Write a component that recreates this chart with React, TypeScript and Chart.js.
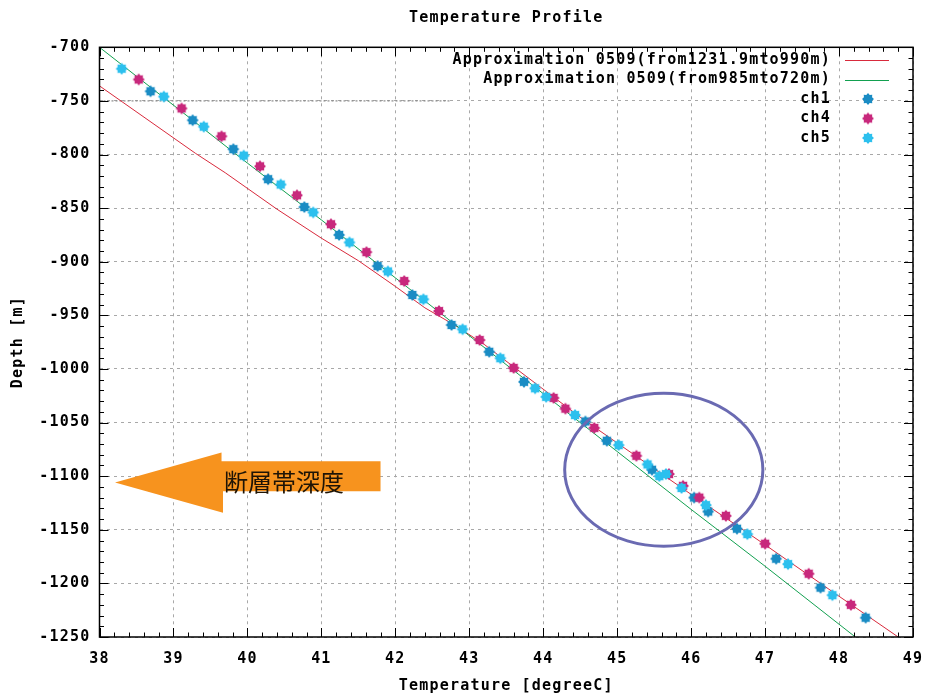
import React, { useEffect, useRef } from 'react';
import { Chart, registerables } from 'chart.js';

Chart.register(...registerables);

// ---------- text ----------
const TITLE = 'Temperature Profile';
const X_TITLE = 'Temperature [degreeC]';
const Y_TITLE = 'Depth [m]';
const RED_LABEL = 'Approximation 0509(from1231.9mto990m)';
const GREEN_LABEL = 'Approximation 0509(from985mto720m)';
const FAULT_LABEL = '断層帯深度';

// ---------- ticks ----------
const X_TICKS = [38, 39, 40, 41, 42, 43, 44, 45, 46, 47, 48, 49];
const Y_TICKS = [-700, -750, -800, -850, -900, -950, -1000, -1050, -1100, -1150, -1200, -1250];

// ---------- approximation lines ----------
const redTemp = [38.0, 39.3, 39.7, 40.4, 41.0, 41.5, 42.0, 42.4, 42.8, 43.2, 43.6, 44.5, 45.0, 46.0, 47.0, 48.0, 48.8];
const redDepth = [-736, -799, -817, -851, -878, -899, -923, -943, -959, -977, -998, -1045, -1069, -1117, -1164, -1212, -1250];

const greenTemp = [38.0, 39.0, 40.0, 41.0, 42.0, 43.0, 44.0, 45.0, 46.0, 47.0, 48.22];
const greenDepth = [-700, -754, -808, -861, -915, -969, -1023, -1077, -1131, -1184, -1250];

// dotted guide at -750
const guideTemp = [38.0, 42.75];
const guideDepth = [-750, -750];

// ---------- measured channels ----------
const ch1Temp = [38.69, 39.26, 39.81, 40.28, 40.77, 41.24, 41.76, 42.23, 42.76, 43.27, 43.74, 44.57, 44.86, 45.47, 46.04, 46.23, 46.62, 47.15, 47.75, 48.36];
const ch1Depth = [-741, -768, -795, -823, -849, -875, -904, -931, -959, -984, -1012, -1049, -1067, -1094, -1120, -1133, -1149, -1177, -1204, -1232];

const ch4Temp = [38.53, 39.11, 39.65, 40.17, 40.67, 41.13, 41.61, 42.12, 42.59, 43.14, 43.60, 44.14, 44.30, 44.69, 45.26, 45.70, 45.89, 46.11, 46.47, 47.00, 47.59, 48.16];
const ch4Depth = [-730, -757, -783, -811, -838, -865, -891, -918, -946, -973, -999, -1027, -1037, -1055, -1081, -1098, -1109, -1120, -1137, -1163, -1191, -1220];

const ch5Temp = [38.30, 38.87, 39.41, 39.95, 40.45, 40.89, 41.38, 41.90, 42.38, 42.91, 43.42, 43.89, 44.04, 44.43, 45.02, 45.41, 45.57, 45.66, 45.87, 46.20, 46.76, 47.31, 47.91];
const ch5Depth = [-720, -746, -774, -801, -828, -854, -882, -909, -935, -963, -990, -1018, -1026, -1043, -1071, -1089, -1100, -1098, -1111, -1127, -1154, -1182, -1211];

// ---------- styles ----------
const FONT = 'DejaVu Sans Mono';
const FONT_SIZE = 15;
const SPACING = '1.2px';
const RED = '#d82a3c';
const GREEN = '#12a050';
const CH1 = '#1a8cc4';
const CH4 = '#c8287c';
const CH5 = '#2cc0ee';
const GRID = '#a8a8a8';
const ELLIPSE_COLOR = '#6a6ab2';
const ARROW_COLOR = '#f7931e';

const pts = (xs: number[], ys: number[]) => xs.map((x, i) => ({ x, y: ys[i] }));

function makeMarker(color: string): HTMLCanvasElement {
  const c = document.createElement('canvas');
  const s = 14;
  c.width = s;
  c.height = s;
  const g = c.getContext('2d')!;
  g.fillStyle = color;
  g.beginPath();
  for (let i = 0; i < 16; i++) {
    const r = i % 2 === 0 ? 6 : 4.4;
    const a = (i * Math.PI) / 8;
    g.lineTo(s / 2 + r * Math.cos(a), s / 2 + r * Math.sin(a));
  }
  g.closePath();
  g.fill();
  return c;
}

export default function App() {
  const ref = useRef<HTMLCanvasElement>(null);

  useEffect(() => {
    const canvas = ref.current!;
    const markers: Record<string, HTMLCanvasElement> = {
      ch1: makeMarker(CH1),
      ch4: makeMarker(CH4),
      ch5: makeMarker(CH5),
    };

    const spacingPlugin = {
      id: 'spacing',
      beforeDraw(chart: any) {
        chart.ctx.letterSpacing = SPACING;
      },
    };

    const decorPlugin = {
      id: 'decor',
      afterDatasetsDraw(chart: any) {
        const { ctx, scales } = chart;
        const xs = scales.x;
        const ys = scales.y;
        const X = (v: number) => xs.getPixelForValue(v);
        const Y = (v: number) => ys.getPixelForValue(v);
        ctx.save();
        // ellipse
        const cx = X(45.63);
        const cy = Y(-1094);
        const rx = X(45.63 + 1.34) - cx;
        const ry = Y(-1094 - 71.4) - cy;
        ctx.strokeStyle = ELLIPSE_COLOR;
        ctx.lineWidth = 3;
        ctx.beginPath();
        ctx.ellipse(cx, cy, rx, ry, 0, 0, Math.PI * 2);
        ctx.stroke();
        // arrow
        ctx.fillStyle = ARROW_COLOR;
        ctx.beginPath();
        ctx.moveTo(X(38.21), Y(-1106));
        ctx.lineTo(X(39.65), Y(-1078));
        ctx.lineTo(X(39.65), Y(-1086));
        ctx.lineTo(X(41.8), Y(-1086));
        ctx.lineTo(X(41.8), Y(-1114));
        ctx.lineTo(X(39.67), Y(-1114));
        ctx.lineTo(X(39.67), Y(-1134));
        ctx.closePath();
        ctx.fill();
        ctx.letterSpacing = '0px';
        ctx.fillStyle = '#1e1406';
        ctx.font = '24px "Noto Sans CJK JP"';
        ctx.textAlign = 'left';
        ctx.textBaseline = 'middle';
        ctx.fillText(FAULT_LABEL, X(39.67) + 1, Y(-1105));
        ctx.restore();
      },
      afterDraw(chart: any) {
        const { ctx, chartArea: a, scales } = chart;
        const xs = scales.x;
        const ys = scales.y;
        ctx.save();
        ctx.strokeStyle = '#000';
        ctx.lineWidth = 1;
        // minor & major ticks
        ctx.beginPath();
        for (let i = 0; i < X_TICKS.length; i++) {
          const px = Math.round(xs.getPixelForValue(X_TICKS[i])) + 0.5;
          ctx.moveTo(px, a.bottom);
          ctx.lineTo(px, a.bottom - 9);
          ctx.moveTo(px, a.top);
          ctx.lineTo(px, a.top + 9);
          if (i < X_TICKS.length - 1) {
            for (let k = 1; k < 5; k++) {
              const m = Math.round(xs.getPixelForValue(X_TICKS[i] + k * 0.2)) + 0.5;
              ctx.moveTo(m, a.bottom);
              ctx.lineTo(m, a.bottom - 4.5);
              ctx.moveTo(m, a.top);
              ctx.lineTo(m, a.top + 4.5);
            }
          }
        }
        for (let i = 0; i < Y_TICKS.length; i++) {
          const py = Math.round(ys.getPixelForValue(Y_TICKS[i])) + 0.5;
          ctx.moveTo(a.left, py);
          ctx.lineTo(a.left + 9, py);
          ctx.moveTo(a.right, py);
          ctx.lineTo(a.right - 9, py);
          if (i < Y_TICKS.length - 1) {
            for (let k = 1; k < 5; k++) {
              const m = Math.round(ys.getPixelForValue(Y_TICKS[i] - k * 10)) + 0.5;
              ctx.moveTo(a.left, m);
              ctx.lineTo(a.left + 4.5, m);
              ctx.moveTo(a.right, m);
              ctx.lineTo(a.right - 4.5, m);
            }
          }
        }
        ctx.stroke();
        // border
        ctx.lineWidth = 1.5;
        ctx.strokeRect(a.left, a.top, a.right - a.left, a.bottom - a.top);

        ctx.letterSpacing = SPACING;
        ctx.font = `bold ${FONT_SIZE}px "${FONT}"`;
        ctx.textBaseline = 'middle';

        // title, centred over the plot area
        ctx.fillStyle = '#000';
        ctx.textAlign = 'center';
        ctx.fillText(TITLE, (a.left + a.right) / 2, 18);

        // legend
        const rows = [
          { label: RED_LABEL, kind: 'line', color: RED },
          { label: GREEN_LABEL, kind: 'line', color: GREEN },
          { label: 'ch1', kind: 'ch1', color: CH1 },
          { label: 'ch4', kind: 'ch4', color: CH4 },
          { label: 'ch5', kind: 'ch5', color: CH5 },
        ];
        ctx.textAlign = 'right';
        rows.forEach((r, i) => {
          const y = 60 + i * 19.5;
          ctx.fillStyle = '#000';
          ctx.fillText(r.label, 831, y);
          if (r.kind === 'line') {
            ctx.strokeStyle = r.color;
            ctx.lineWidth = 1;
            ctx.beginPath();
            ctx.moveTo(845, Math.round(y) + 0.5);
            ctx.lineTo(889, Math.round(y) + 0.5);
            ctx.stroke();
          } else {
            const m = markers[r.kind];
            ctx.drawImage(m, 868 - m.width / 2, y - m.height / 2);
          }
        });
        ctx.restore();
      },
    };

    const tickFont = { family: FONT, size: FONT_SIZE, weight: 'bold' as const };

    const chart = new Chart(canvas, {
      type: 'scatter',
      data: {
        datasets: [
          {
            label: RED_LABEL,
            data: pts(redTemp, redDepth),
            showLine: true,
            borderColor: RED,
            borderWidth: 1,
            pointRadius: 0,
            order: 5,
          },
          {
            label: GREEN_LABEL,
            data: pts(greenTemp, greenDepth),
            showLine: true,
            borderColor: GREEN,
            borderWidth: 1,
            pointRadius: 0,
            order: 4,
          },
          {
            label: 'guide',
            data: pts(guideTemp, guideDepth),
            showLine: true,
            borderColor: '#8a8a8a',
            borderWidth: 1.2,
            borderDash: [2, 2],
            pointRadius: 0,
            order: 6,
          },
          {
            label: 'ch1',
            data: pts(ch1Temp, ch1Depth),
            pointStyle: markers.ch1 as any,
            pointRadius: 6,
            backgroundColor: CH1,
            borderColor: CH1,
            order: 3,
          },
          {
            label: 'ch4',
            data: pts(ch4Temp, ch4Depth),
            pointStyle: markers.ch4 as any,
            pointRadius: 6,
            backgroundColor: CH4,
            borderColor: CH4,
            order: 2,
          },
          {
            label: 'ch5',
            data: pts(ch5Temp, ch5Depth),
            pointStyle: markers.ch5 as any,
            pointRadius: 6,
            backgroundColor: CH5,
            borderColor: CH5,
            order: 1,
          },
        ] as any,
      },
      options: {
        responsive: false,
        animation: false,
        events: [],
        layout: { padding: { left: 0, right: 14, top: 47.3, bottom: 0 } },
        plugins: {
          legend: { display: false },
          tooltip: { enabled: false },
          title: { display: false },
        },
        scales: {
          x: {
            type: 'linear',
            min: 38,
            max: 49,
            afterFit: (s: any) => {
              s.height = 59;
              s.paddingLeft = 0;
              s.paddingRight = 0;
            },
            afterBuildTicks: (s: any) => {
              s.ticks = X_TICKS.map((v) => ({ value: v }));
            },
            ticks: {
              color: '#000',
              font: tickFont,
              padding: 12.7,
              maxRotation: 0,
              autoSkip: false,
              callback: (v: any) => String(v),
            },
            grid: { color: GRID, lineWidth: 1, drawTicks: false },
            border: { display: false, dash: [3, 4] },
            title: {
              display: true,
              text: X_TITLE,
              color: '#000',
              font: tickFont,
              padding: { top: 0, bottom: 1 },
            },
          },
          y: {
            type: 'linear',
            min: -1250,
            max: -700,
            afterFit: (s: any) => {
              s.width = 99.5;
              s.paddingTop = 0;
              s.paddingBottom = 0;
            },
            afterBuildTicks: (s: any) => {
              s.ticks = Y_TICKS.map((v) => ({ value: v }));
            },
            ticks: {
              color: '#000',
              font: tickFont,
              padding: 9,
              autoSkip: false,
              callback: (v: any) => String(v),
            },
            grid: { color: GRID, lineWidth: 1, drawTicks: false },
            border: { display: false, dash: [3, 4] },
            title: {
              display: true,
              text: Y_TITLE,
              color: '#000',
              font: tickFont,
              padding: { top: 9, bottom: 0 },
            },
          },
        },
      },
      plugins: [spacingPlugin, decorPlugin],
    } as any);

    return () => chart.destroy();
  }, []);

  return (
    <div style={{ position: 'fixed', left: 0, top: 0, width: 927, height: 696, background: '#fff' }}>
      <canvas ref={ref} width={927} height={696} style={{ display: 'block', width: 927, height: 696 }} />
    </div>
  );
}
